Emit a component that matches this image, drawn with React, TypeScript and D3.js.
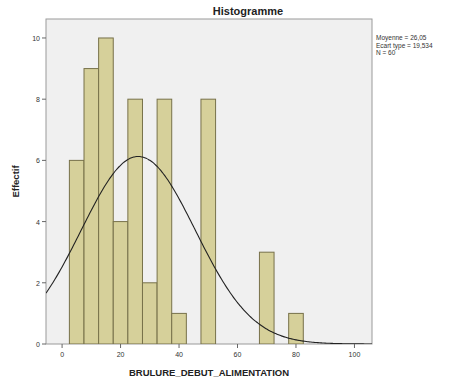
import React from 'react';
import * as d3 from 'd3';

// Histogram bins (centre of each 5-unit bin) and their counts
const binCenters = [5, 10, 15, 20, 25, 30, 35, 40, 45, 50, 55, 60, 65, 70, 75, 80];
const counts = [6, 9, 10, 4, 8, 2, 8, 1, 0, 8, 0, 0, 0, 3, 0, 1];
const binWidth = 5;

// Summary statistics shown at the right
const mean = 26.05;
const stdDev = 19.534;
const total = 60;
const statLines = ['Moyenne = 26,05', 'Ecart type = 19,534', 'N = 60'];

const xTicks = [0, 20, 40, 60, 80, 100];
const yTicks = [0, 2, 4, 6, 8, 10];

const W = 451;
const H = 385;
const plot = { left: 46, right: 372, top: 19, bottom: 344 };
const font = 'Liberation Sans, Arial, sans-serif';

export default function App() {
	const x = d3.scaleLinear().domain([-5.5, 106]).range([plot.left, plot.right]);
	const y = d3.scaleLinear().domain([0, 10.62]).range([plot.bottom, plot.top]);

	// Normal curve scaled to counts (N * bin width)
	const scale = total * binWidth;
	const normal = (v: number) =>
		(scale / (stdDev * Math.sqrt(2 * Math.PI))) * Math.exp(-0.5 * ((v - mean) / stdDev) ** 2);
	const curvePts = d3.range(-5.5, 106.01, 0.5).map((v) => [v, normal(v)] as [number, number]);
	const line = d3.line<[number, number]>()
		.x((d) => x(d[0]))
		.y((d) => y(d[1]))
		.curve(d3.curveMonotoneX);

	const bars = binCenters
		.map((c, i) => ({ c, n: counts[i] }))
		.filter((b) => b.n > 0);

	return (
		<svg width={W} height={H} style={{ position: 'absolute', left: 0, top: 0, background: '#fff' }}>
			<text x={248} y={15} textAnchor="middle" fontFamily={font} fontWeight="bold" fontSize={11} fill="#222">
				Histogramme
			</text>

			<rect
				x={plot.left}
				y={plot.top}
				width={plot.right - plot.left}
				height={plot.bottom - plot.top}
				fill="#f0f0f0"
				stroke="#9a9a9a"
				strokeWidth={1}
			/>

			<g clipPath="url(#plotClip)">
				{bars.map((b) => (
					<rect
						key={b.c}
						x={x(b.c - binWidth / 2)}
						y={y(b.n)}
						width={x(b.c + binWidth / 2) - x(b.c - binWidth / 2)}
						height={y(0) - y(b.n)}
						fill="#d6d09a"
						stroke="#77714a"
						strokeWidth={1}
					/>
				))}
				<path d={line(curvePts) || ''} fill="none" stroke="#222" strokeWidth={1.1} />
			</g>
			<defs>
				<clipPath id="plotClip">
					<rect x={plot.left} y={plot.top} width={plot.right - plot.left} height={plot.bottom - plot.top} />
				</clipPath>
			</defs>

			{/* y axis */}
			{yTicks.map((t) => (
				<g key={t}>
					<line x1={plot.left - 4} x2={plot.left} y1={y(t)} y2={y(t)} stroke="#666" />
					<text x={plot.left - 6} y={y(t) + 3} textAnchor="end" fontFamily={font} fontSize={7} fill="#333">
						{t}
					</text>
				</g>
			))}

			{/* x axis */}
			{xTicks.map((t) => (
				<g key={t}>
					<line x1={x(t)} x2={x(t)} y1={plot.bottom} y2={plot.bottom + 4} stroke="#666" />
					<text x={x(t)} y={plot.bottom + 13} textAnchor="middle" fontFamily={font} fontSize={7} fill="#333">
						{t}
					</text>
				</g>
			))}

			<text
				x={(plot.left + plot.right) / 2}
				y={376}
				textAnchor="middle"
				fontFamily={font}
				fontWeight="bold"
				fontSize={9.5}
				fill="#222"
			>
				BRULURE_DEBUT_ALIMENTATION
			</text>
			<text
				transform={`translate(19,${(plot.top + plot.bottom) / 2}) rotate(-90)`}
				textAnchor="middle"
				fontFamily={font}
				fontWeight="bold"
				fontSize={9.5}
				fill="#222"
			>
				Effectif
			</text>

			{statLines.map((s, i) => (
				<text key={s} x={376} y={40 + i * 7.5} fontFamily={font} fontSize={6.5} fill="#333">
					{s}
				</text>
			))}
		</svg>
	);
}
